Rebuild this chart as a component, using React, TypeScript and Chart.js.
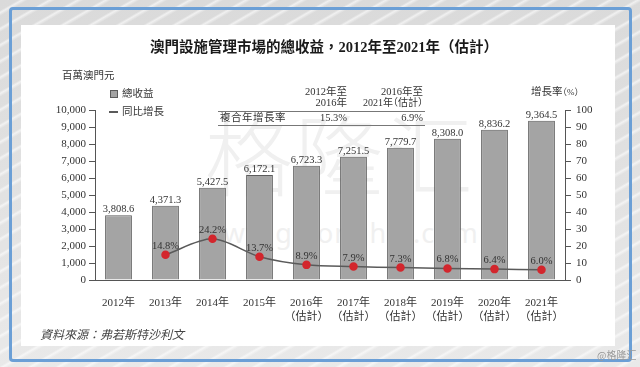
import React, { useEffect, useRef } from 'react';
import { Chart, registerables } from 'chart.js';

Chart.register(...registerables);

// ---- data ----
const years = ['2012年', '2013年', '2014年', '2015年', '2016年', '2017年', '2018年', '2019年', '2020年', '2021年'];
const estimated = [false, false, false, false, true, true, true, true, true, true];
const revenue = [3808.6, 4371.3, 5427.5, 6172.1, 6723.3, 7251.5, 7779.7, 8308.0, 8836.2, 9364.5];
const growth = [null, 14.8, 24.2, 13.7, 8.9, 7.9, 7.3, 6.8, 6.4, 6.0];
const leftAxisMax = 10000;
const leftAxisStep = 1000;
const rightAxisMax = 100;
const rightAxisStep = 10;
const cagrPeriodTop = ['2012年至', '2016年至'];
const cagrPeriodBottom = ['2016年', '2021年（估計）'];
const cagrValues = ['15.3%', '6.9%'];
const estimateNote = '（估計）';

const SERIF = '"Liberation Serif", "Noto Sans CJK TC", serif';
const TEXT = '#333333';
const AXIS = '#555555';

const fmtRevenue = (v: number) =>
  v.toLocaleString('en-US', { minimumFractionDigits: 1, maximumFractionDigits: 1 });

const valueLabels = {
  id: 'valueLabels',
  afterDatasetsDraw(chart: any) {
    const ctx = chart.ctx;
    ctx.save();
    ctx.font = `10.5px ${SERIF}`;
    ctx.fillStyle = TEXT;
    ctx.textAlign = 'center';
    ctx.textBaseline = 'alphabetic';
    chart.data.datasets.forEach((ds: any, i: number) => {
      const meta = chart.getDatasetMeta(i);
      meta.data.forEach((el: any, j: number) => {
        const v = ds.data[j];
        if (v == null) return;
        if (ds.type === 'bar') {
          ctx.fillText(fmtRevenue(v), el.x, el.y - 3);
        } else {
          ctx.fillText(v.toFixed(1) + '%', el.x, el.y - 6);
        }
      });
    });
    ctx.restore();
  },
};

const abs = (o: React.CSSProperties): React.CSSProperties => ({ position: 'absolute', ...o });

export default function App() {
  const canvasRef = useRef<HTMLCanvasElement | null>(null);

  useEffect(() => {
    if (!canvasRef.current) return;
    const labels = years.map((y, i) => (estimated[i] ? [y, estimateNote] : [y]));
    const chart = new Chart(canvasRef.current, {
      type: 'bar',
      data: {
        labels,
        datasets: [
          {
            type: 'line',
            label: '同比增長',
            data: growth,
            yAxisID: 'y1',
            borderColor: '#5a5a5a',
            borderWidth: 1.5,
            pointBackgroundColor: '#d3262d',
            pointBorderColor: '#d3262d',
            pointRadius: 3.5,
            tension: 0.3,
            order: 1,
          } as any,
          {
            type: 'bar',
            label: '總收益',
            data: revenue,
            yAxisID: 'y',
            backgroundColor: '#a4a4a4',
            borderColor: '#5c5c5c',
            borderWidth: 1,
            barPercentage: 0.57,
            categoryPercentage: 1,
            order: 2,
          } as any,
        ],
      },
      options: {
        responsive: false,
        animation: false,
        layout: { padding: { top: 110, left: 0, right: 0, bottom: 0 } },
        plugins: {
          legend: { display: false },
          tooltip: { enabled: false },
          title: { display: false },
        },
        scales: {
          x: {
            grid: { display: false },
            border: { display: true, color: AXIS, width: 1 },
            ticks: {
              color: TEXT,
              font: { family: SERIF, size: 11, lineHeight: 1.2 },
              padding: 9,
              maxRotation: 0,
              autoSkip: false,
            },
            afterFit: (s: any) => {
              s.height = 87;
            },
          },
          y: {
            position: 'left',
            min: 0,
            max: leftAxisMax,
            ticks: {
              stepSize: leftAxisStep,
              color: TEXT,
              font: { family: SERIF, size: 11 },
              padding: 3,
              callback: (v: any) => Number(v).toLocaleString('en-US'),
            },
            grid: { drawOnChartArea: false, drawTicks: true, tickLength: 6, color: AXIS },
            border: { display: true, color: AXIS, width: 1 },
            afterFit: (s: any) => {
              s.width = 95;
            },
          },
          y1: {
            position: 'right',
            min: 0,
            max: rightAxisMax,
            ticks: {
              stepSize: rightAxisStep,
              color: TEXT,
              font: { family: SERIF, size: 11 },
              padding: 5,
            },
            grid: { drawOnChartArea: false, drawTicks: true, tickLength: 6, color: AXIS },
            border: { display: true, color: AXIS, width: 1 },
            afterFit: (s: any) => {
              s.width = 75;
            },
          },
        },
      } as any,
      plugins: [valueLabels],
    });
    return () => chart.destroy();
  }, []);

  const small: React.CSSProperties = {
    fontFamily: SERIF,
    fontSize: 10.5,
    color: TEXT,
    lineHeight: '14px',
    whiteSpace: 'nowrap',
    fontFeatureSettings: '"halt"',
  };

  return (
    <div
      style={{
        position: 'fixed',
        left: 0,
        top: 0,
        width: 640,
        height: 367,
        overflow: 'hidden',
        background:
          'repeating-linear-gradient(150deg, rgba(255,255,255,0) 0px, rgba(255,255,255,0) 9px, rgba(255,255,255,0.6) 11px, rgba(255,255,255,0) 14px), linear-gradient(180deg, #dadada, #e9e9e9)',
      }}
    >
      {/* blue frame */}
      <div
        style={abs({
          left: 9,
          top: 7,
          width: 623,
          height: 355,
          boxSizing: 'border-box',
          border: '3px solid #6b9fd6',
          borderRadius: 4,
        })}
      />
      {/* white panel */}
      <div style={abs({ left: 21, top: 25, width: 594, height: 321, background: '#ffffff' })} />
      {/* faint watermark */}
      <div
        style={abs({
          left: 200,
          top: 96,
          width: 280,
          textAlign: 'center',
          fontFamily: '"Noto Sans CJK SC", sans-serif',
          fontWeight: 300,
          fontSize: 88,
          lineHeight: '110px',
          color: '#f0f0f0',
          letterSpacing: 2,
        })}
      >
        格隆汇
      </div>
      <div
        style={abs({
          left: 200,
          top: 218,
          width: 280,
          textAlign: 'center',
          fontFamily: '"Noto Sans", sans-serif',
          fontSize: 27,
          lineHeight: '30px',
          color: '#f0f0f0',
          letterSpacing: 1,
        })}
      >
        www.gelonghui.com
      </div>

      <canvas
        ref={canvasRef}
        width={640}
        height={367}
        style={abs({ left: 0, top: 0, width: 640, height: 367 })}
      />

      {/* title */}
      <div
        style={abs({
          left: 4,
          top: 38,
          width: 640,
          textAlign: 'center',
          fontFamily: SERIF,
          fontWeight: 'bold',
          fontSize: 14.5,
          lineHeight: '18px',
          color: '#1a1a1a',
          whiteSpace: 'nowrap',
        })}
      >
        澳門設施管理市場的總收益，2012年至2021年（估計）
      </div>

      {/* unit labels */}
      <div style={abs({ ...small, left: 62, top: 69 })}>百萬澳門元</div>
      <div style={abs({ ...small, left: 520, top: 85, width: 70, textAlign: 'center' })}>
        增長率<span style={{ fontSize: 9 }}>（%）</span>
      </div>

      {/* legend */}
      <div
        style={abs({
          left: 110,
          top: 90,
          width: 8,
          height: 8,
          boxSizing: 'border-box',
          background: '#a4a4a4',
          border: '1px solid #5c5c5c',
        })}
      />
      <div style={abs({ ...small, left: 122, top: 87 })}>總收益</div>
      <div style={abs({ left: 109, top: 111, width: 9, height: 1.5, background: '#5a5a5a' })} />
      <div style={abs({ ...small, left: 122, top: 105 })}>同比增長</div>

      {/* CAGR table */}
      <div style={abs({ ...small, left: 247, top: 85, width: 100, textAlign: 'right' })}>{cagrPeriodTop[0]}</div>
      <div style={abs({ ...small, left: 247, top: 96, width: 100, textAlign: 'right' })}>{cagrPeriodBottom[0]}</div>
      <div style={abs({ ...small, left: 323, top: 85, width: 100, textAlign: 'right' })}>{cagrPeriodTop[1]}</div>
      <div style={abs({ ...small, left: 323, top: 96, width: 100, textAlign: 'right', fontSize: 10 })}>{cagrPeriodBottom[1]}</div>
      <div style={abs({ left: 218, top: 111, width: 207, height: 1, background: '#777' })} />
      <div style={abs({ ...small, left: 220, top: 111, letterSpacing: 0.5 })}>複合年增長率</div>
      <div style={abs({ ...small, left: 247, top: 111, width: 100, textAlign: 'right' })}>{cagrValues[0]}</div>
      <div style={abs({ ...small, left: 323, top: 111, width: 100, textAlign: 'right' })}>{cagrValues[1]}</div>
      <div style={abs({ left: 218, top: 125, width: 207, height: 1, background: '#777' })} />

      {/* source */}
      <div
        style={abs({
          left: 40,
          top: 327,
          fontFamily: SERIF,
          fontStyle: 'italic',
          fontSize: 12,
          lineHeight: '16px',
          color: '#444',
          whiteSpace: 'nowrap',
        })}
      >
        資料來源：弗若斯特沙利文
      </div>

      {/* corner watermark */}
      <div
        style={abs({
          left: 597,
          top: 349,
          fontFamily: '"Noto Sans CJK SC", sans-serif',
          fontSize: 10,
          lineHeight: '12px',
          color: '#9a9a9a',
          whiteSpace: 'nowrap',
        })}
      >
        @格隆汇
      </div>
    </div>
  );
}
